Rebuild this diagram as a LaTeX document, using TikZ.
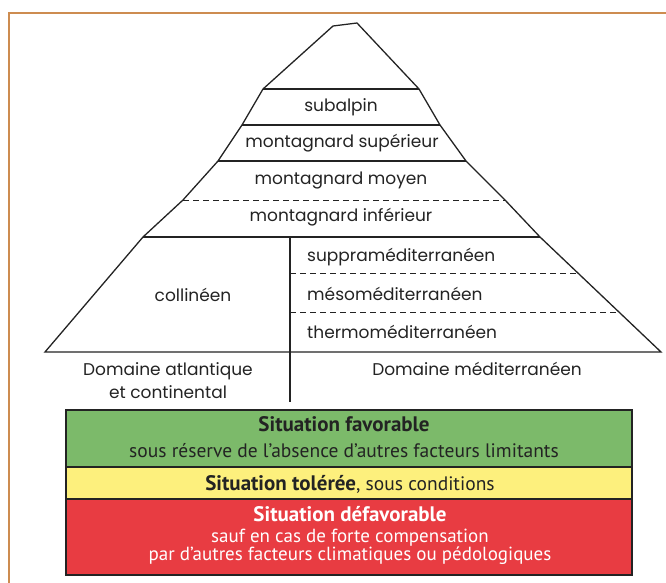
\documentclass[tikz,border=0pt]{standalone}
\usepackage{fontspec}
\setmainfont{Poppins}
\newfontfamily\boxfont{PT Sans}
\usetikzlibrary{positioning}
\definecolor{framec}{RGB}{205,140,80}
\definecolor{linec}{RGB}{35,35,35}
\definecolor{favc}{RGB}{124,186,106}
\definecolor{tolc}{RGB}{253,240,125}
\definecolor{defc}{RGB}{232,60,66}
\tikzset{
  mline/.style={draw=linec, line width=1.3pt, line join=miter},
  dline/.style={draw=linec, line width=1pt, dash pattern=on 6pt off 4pt},
  zone/.style={font=\fontsize{17}{20}\selectfont, text=linec, inner sep=0pt, anchor=center},
  zoneL/.style={zone, anchor=west},
  band/.style={draw=linec, line width=1.2pt},
  bigtxt/.style={font=\boxfont\bfseries\fontsize{21}{22}\selectfont, inner sep=0pt},
  smalltxt/.style={font=\boxfont\fontsize{19.5}{17}\selectfont, inner sep=0pt},
}
\begin{document}
\begin{tikzpicture}[x=1pt,y=-1pt]
\useasboundingbox (0,0) rectangle (666,583);
% frame
\draw[framec, line width=1.6pt] (9,583) -- (9,13) -- (666,13);
% mountain outline
\draw[mline] (45,352) -- (143,237) -- (183,200) -- (218,161) -- (242,125) -- (263,89) -- (333,26) -- (357,23) -- (419,89) -- (440,125) -- (466,161) -- (505,200) -- (540,237) -- (661,352) -- cycle;
% horizontal levels
\draw[mline] (263,89) -- (419,89);
\draw[mline] (242,125) -- (440,125);
\draw[mline] (218,161) -- (466,161);
\draw[dline] (183,200) -- (505,200);
\draw[mline] (143,237) -- (540,237);
% divider
\draw[mline] (290,237) -- (290,402);
\draw[dline] (290,273) -- (578,273);
\draw[dline] (290,312) -- (619,312);
% zone labels
\node[zone] (subalpin) at (341,107) {subalpin};
\node[zone] (msup) at (342,143) {montagnard supérieur};
\node[zone] (mmoy) at (341,181) {montagnard moyen};
\node[zone] (minf) at (341,217) {montagnard inférieur};
\node[zone] (coll) at (193,295) {collinéen};
\node[zoneL] (supra) at (307,257) {suppraméditerranéen};
\node[zoneL] (meso) at (307,294) {mésoméditerranéen};
\node[zoneL] (thermo) at (307,332) {thermoméditerranéen};
\node[zone, align=center, font=\fontsize{17}{23}\selectfont] (datl) at (168,381) {Domaine atlantique\\et continental};
\node[zone] (dmed) at (477,369) {Domaine méditerranéen};
% situation bands
\fill[favc] (66,410) rectangle (632,467);
\fill[tolc] (66,467) rectangle (632,499);
\fill[defc] (66,499) rectangle (632,575);
\draw[band] (66,410) rectangle (632,575);
\draw[band] (66,467) -- (632,467);
\draw[band] (66,499) -- (632,499);
\node[bigtxt, text=linec] (fav) at (344,424) {Situation favorable};
\node[smalltxt, text=linec] (favs) at (344,451) {sous réserve de l’absence d’autres facteurs limitants};
\node[text=linec, inner sep=0pt] (tol) at (350,484) {{\boxfont\bfseries\fontsize{21}{22}\selectfont Situation tolérée}{\boxfont\fontsize{19.5}{17}\selectfont, sous conditions}};
\node[bigtxt, text=white] (def) at (350,514) {Situation défavorable};
\node[smalltxt, text=white, align=center, font=\boxfont\fontsize{19}{17.5}\selectfont] (defs) at (350,547) {sauf en cas de forte compensation\\par d’autres facteurs climatiques ou pédologiques};
\end{tikzpicture}
\end{document}
